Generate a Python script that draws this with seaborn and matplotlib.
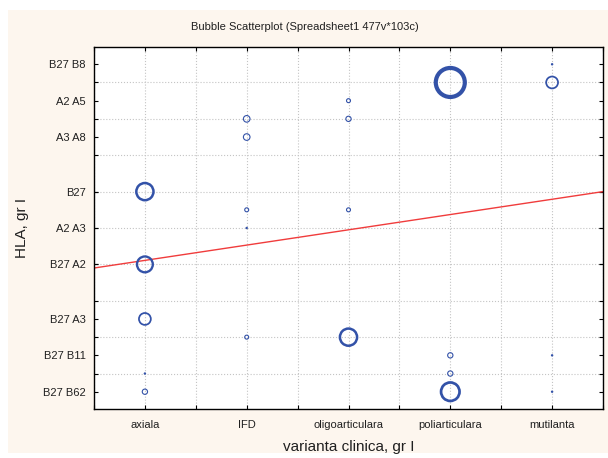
import numpy as np
import pandas as pd
import matplotlib
matplotlib.use("Agg")
import matplotlib.pyplot as plt
import seaborn as sns
from matplotlib.ticker import MultipleLocator, FixedLocator
from matplotlib.patches import Rectangle

# categorii / coduri HLA
categories = ["axiala", "IFD", "oligoarticulara", "poliarticulara", "mutilanta"]
hla_labels = ["B27 B62", "B27 B11", "B27 A3", "B27 A2", "A2 A3", "B27", "A3 A8", "A2 A5", "B27 B8"]
hla_codes = [0, 2, 4, 7, 9, 11, 14, 16, 18]

# bule: categorie, cod HLA, frecventa
bubble_cat = (["axiala"] * 5 + ["IFD"] * 5 + ["oligoarticulara"] * 4
              + ["poliarticulara"] * 4 + ["mutilanta"] * 4)
bubble_hla = [11, 7, 4, 1, 0,
              15, 14, 10, 9, 3,
              16, 15, 10, 3,
              17, 2, 1, 0,
              17, 18, 2, 0]
bubble_n = [13, 12, 9, 1, 4,
            5, 5, 3, 1, 3,
            3, 4, 3, 13,
            22, 4, 4, 14,
            9, 1, 1, 1]

# dreapta de regresie
fit_intercept = 6.38
fit_slope = 0.84

df = pd.DataFrame({"cat": bubble_cat, "hla": bubble_hla, "n": bubble_n})
df["x"] = df["cat"].map({c: i + 1 for i, c in enumerate(categories)})

sns.set_theme(style="white")
plt.rcParams["font.family"] = ["Liberation Sans", "DejaVu Sans"]

fig = plt.figure(figsize=(6.08, 4.58), dpi=100)
fig.patches.append(Rectangle((8 / 608, 5 / 458), 600 / 608, 443 / 458,
                             transform=fig.transFigure, facecolor="#FDF6EE",
                             edgecolor="none", zorder=-10))
ax = fig.add_axes([94 / 608, 1 - 409 / 458, 509 / 608, 362 / 458])
ax.set_facecolor("white")

n = df["n"].to_numpy(dtype=float)
sns.scatterplot(data=df, x="x", y="hla", ax=ax, s=(0.95 * n) ** 2,
                facecolors="none", edgecolor="#3352A8",
                linewidth=np.clip(0.14 * n, 0.8, 3.0), legend=False, zorder=3)

xs = np.array([0.5, 5.5])
ax.plot(xs, fit_intercept + fit_slope * xs, color="#F03C3C", lw=1.0, zorder=2)

ax.set_xlim(0.5, 5.5)
ax.set_ylim(-0.95, 18.95)

ax.set_xticks(range(1, 6))
ax.set_xticklabels(categories)
ax.xaxis.set_minor_locator(MultipleLocator(0.5))
ax.set_yticks(hla_codes)
ax.set_yticklabels(hla_labels)
ax.yaxis.set_minor_locator(FixedLocator(range(1, 18, 2)))
ax.yaxis.remove_overlapping_locs = False

ax.grid(False)
ax.grid(True, axis="x", which="both", color="#C4C4C4", ls=":", lw=0.8)
ax.grid(True, axis="y", which="minor", color="#C4C4C4", ls=":", lw=0.8)

ax.tick_params(which="both", direction="in", top=True, right=True,
               bottom=True, left=True, color="black")
ax.tick_params(which="major", length=3, width=0.8)
ax.tick_params(which="minor", length=3, width=0.8)
ax.tick_params(axis="x", labelsize=8, pad=8, labelcolor="#202020")
ax.tick_params(axis="y", labelsize=8, pad=6, labelcolor="#202020")

for sp in ax.spines.values():
    sp.set_color("black")
    sp.set_linewidth(1.0)

ax.set_xlabel("varianta clinica, gr I", fontsize=11, color="#202020")
ax.xaxis.set_label_coords(0.5, -38 / 362)
ax.xaxis.label.set_va("center")
ax.set_ylabel("HLA, gr I", fontsize=11, color="#202020")
ax.yaxis.set_label_coords(-72 / 509, 0.5)
ax.yaxis.label.set_va("center")

fig.text(305 / 608, 1 - 27 / 458, "Bubble Scatterplot (Spreadsheet1 477v*103c)",
         ha="center", va="center", fontsize=8, color="#202020")

fig.savefig("out.png", dpi=100)
